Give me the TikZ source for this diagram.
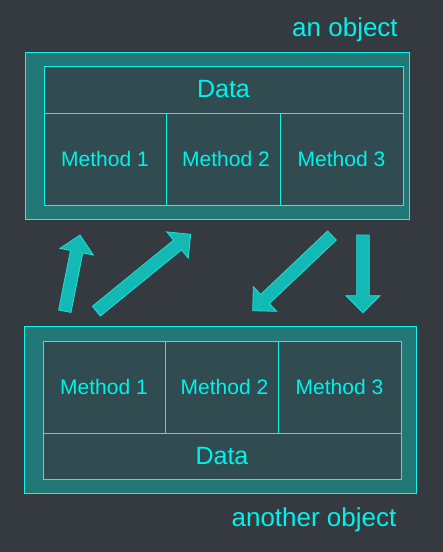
\documentclass[tikz,border=0pt]{standalone}
\usepackage{fontspec}
\setmainfont{Liberation Sans}
\usetikzlibrary{calc}
\definecolor{bg}{HTML}{353A41}
\definecolor{outerfill}{HTML}{227877}
\definecolor{innerfill}{HTML}{304C50}
\definecolor{cyanline}{HTML}{10F4EC}
\definecolor{cyantext}{HTML}{00F2EA}
\definecolor{arrowfill}{HTML}{13B9B4}
\definecolor{arrowedge}{HTML}{22DDD6}
\tikzset{
  outerbox/.style={draw=cyanline, fill=outerfill, line width=1pt, inner sep=0pt, outer sep=0pt},
  cellbox/.style={draw=cyanline, fill=innerfill, line width=1pt, inner sep=0pt, outer sep=0pt,
    text=cyantext, font=\fontsize{21}{25}\selectfont},
  datacell/.style={cellbox, font=\fontsize{25}{30}\selectfont},
  caption/.style={text=cyantext, font=\fontsize{26}{31}\selectfont, inner sep=0pt},
  blockarr/.style={fill=arrowfill, draw=arrowedge, line width=0.8pt, line join=miter},
}
\newcommand\blkarrow[3]{%
  \coordinate (#3hb) at ($(#2)!17pt!(#1)$);
  \filldraw[blockarr] ($(#1)!6.3pt!90:(#2)$) -- ($(#3hb)!6.3pt!90:(#2)$) -- ($(#3hb)!17pt!90:(#2)$)
    -- (#2) -- ($(#3hb)!17pt!-90:(#2)$) -- ($(#3hb)!6.3pt!-90:(#2)$) -- ($(#1)!6.3pt!-90:(#2)$) -- cycle;
}
\begin{document}
\begin{tikzpicture}[x=1pt,y=-1pt]
\fill[bg] (0,0) rectangle (443,552);
\useasboundingbox (0,0) rectangle (443,552);

% top object
\node[outerbox, minimum width=384pt, minimum height=167pt] (topouter) at (217,135.5) {};
\node[datacell, minimum width=359pt, minimum height=47pt] (topdata) at (223.5,89.5) {Data};
\node[cellbox, minimum width=122pt, minimum height=92pt] (topm1) at (105,159) {Method 1};
\node[cellbox, minimum width=114pt, minimum height=92pt] (topm2) at (223,159) {\hspace{6pt}Method 2};
\node[cellbox, minimum width=123pt, minimum height=92pt] (topm3) at (341.5,159) {Method 3};
\node[caption] (toplabel) at (345,30) {an object};

% bottom object
\node[outerbox, minimum width=392pt, minimum height=167pt] (botouter) at (220,409.5) {};
\node[cellbox, minimum width=122pt, minimum height=92pt] (botm1) at (104,387) {Method 1};
\node[cellbox, minimum width=113pt, minimum height=92pt] (botm2) at (221.5,387) {\hspace{6pt}Method 2};
\node[cellbox, minimum width=123pt, minimum height=92pt] (botm3) at (339.5,387) {Method 3};
\node[datacell, minimum width=358pt, minimum height=46pt] (botdata) at (222,456) {Data};
\node[caption] (botlabel) at (314,520) {another object};

% arrows
\coordinate (a1t) at (64.8,311.2); \coordinate (a1h) at (80,235);
\coordinate (a2t) at (96.3,311.2); \coordinate (a2h) at (190.7,234.3);
\coordinate (a3t) at (332,235.5); \coordinate (a3h) at (252.7,310.7);
\coordinate (a4t) at (363,235); \coordinate (a4h) at (363,312.7);
\blkarrow{a1t}{a1h}{aa}
\blkarrow{a2t}{a2h}{ab}
\blkarrow{a3t}{a3h}{ac}
\blkarrow{a4t}{a4h}{ad}
\end{tikzpicture}
\end{document}
